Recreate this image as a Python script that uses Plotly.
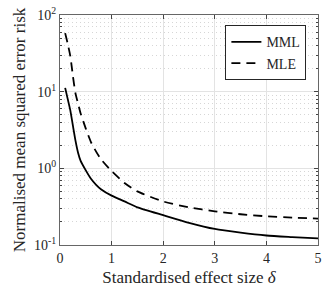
import plotly.graph_objects as go

delta = [0.1, 0.15, 0.2, 0.25, 0.3, 0.35, 0.4, 0.5, 0.6, 0.7, 0.8, 1.0, 1.25, 1.5, 2.0, 2.5, 3.0, 3.5, 4.0, 4.5, 5.0]
mml = [11.2, 8.0, 5.7, 3.6, 2.3, 1.6, 1.25, 0.94, 0.73, 0.61, 0.53, 0.44, 0.37, 0.31, 0.245, 0.195, 0.162, 0.145, 0.133, 0.127, 0.122]
mle = [58, 42, 29, 16, 9.5, 7.0, 5.2, 3.3, 2.2, 1.65, 1.3, 0.92, 0.645, 0.5, 0.37, 0.31, 0.275, 0.252, 0.237, 0.228, 0.221]

ytick_vals = [0.1, 1, 10, 100]
ytick_text = ["10<sup>-1</sup>", "10<sup>0</sup>", "10<sup>1</sup>", "10<sup>2</sup>"]
xtick_vals = [0, 1, 2, 3, 4, 5]

font = "'Liberation Serif', 'Times New Roman', serif"
tc = "#262626"

fig = go.Figure()
fig.add_trace(go.Scatter(x=delta, y=mml, mode="lines", name="MML",
                         line=dict(color="black", width=1.8, shape="spline", smoothing=0.6)))
fig.add_trace(go.Scatter(x=delta, y=mle, mode="lines", name="MLE",
                         line=dict(color="black", width=1.8, dash="9px,6px", shape="spline", smoothing=0.6)))

fig.update_layout(
    width=327, height=293,
    margin=dict(l=60, r=8.5, t=14.5, b=48),
    paper_bgcolor="white", plot_bgcolor="white",
    font=dict(family=font, size=13, color=tc),
    legend=dict(x=0.955, y=0.955, xanchor="right", yanchor="top",
                bgcolor="white", bordercolor=tc, borderwidth=1,
                font=dict(family=font, size=14, color=tc),
                tracegroupgap=0, itemwidth=30),
    showlegend=True,
)
fig.update_xaxes(
    range=[0, 5], tickvals=xtick_vals, ticks="inside", ticklen=4, automargin=False,
    tickcolor="#444", showline=True, linecolor="#666", linewidth=1, mirror="ticks",
    showgrid=True, gridcolor="#e3e3e3", gridwidth=1, zeroline=False,
    tickfont=dict(family=font, size=14, color=tc),
    title=dict(text="Standardised effect size <i>δ</i>", font=dict(family=font, size=17, color=tc), standoff=6),
)
fig.update_yaxes(
    type="log", range=[-1, 2], tickvals=ytick_vals, ticktext=ytick_text, automargin=False,
    ticks="inside", ticklen=4, tickcolor="#444",
    showline=True, linecolor="#666", linewidth=1, mirror="ticks",
    showgrid=True, gridcolor="#e3e3e3", gridwidth=1, zeroline=False,
    minor=dict(ticks="inside", ticklen=2, tickcolor="#444", showgrid=True,
               gridcolor="#d6d6d6", griddash="1px,3px", gridwidth=1,
               tickvals=[v * m for v in [0.1, 1, 10] for m in range(2, 10)]),
    tickfont=dict(family=font, size=14, color=tc),
    title=dict(text="Normalised mean squared error risk", font=dict(family=font, size=17, color=tc), standoff=4),
)

fig.write_html("out.html", config={"displayModeBar": False},
               post_script="document.body.style.margin='0';")
